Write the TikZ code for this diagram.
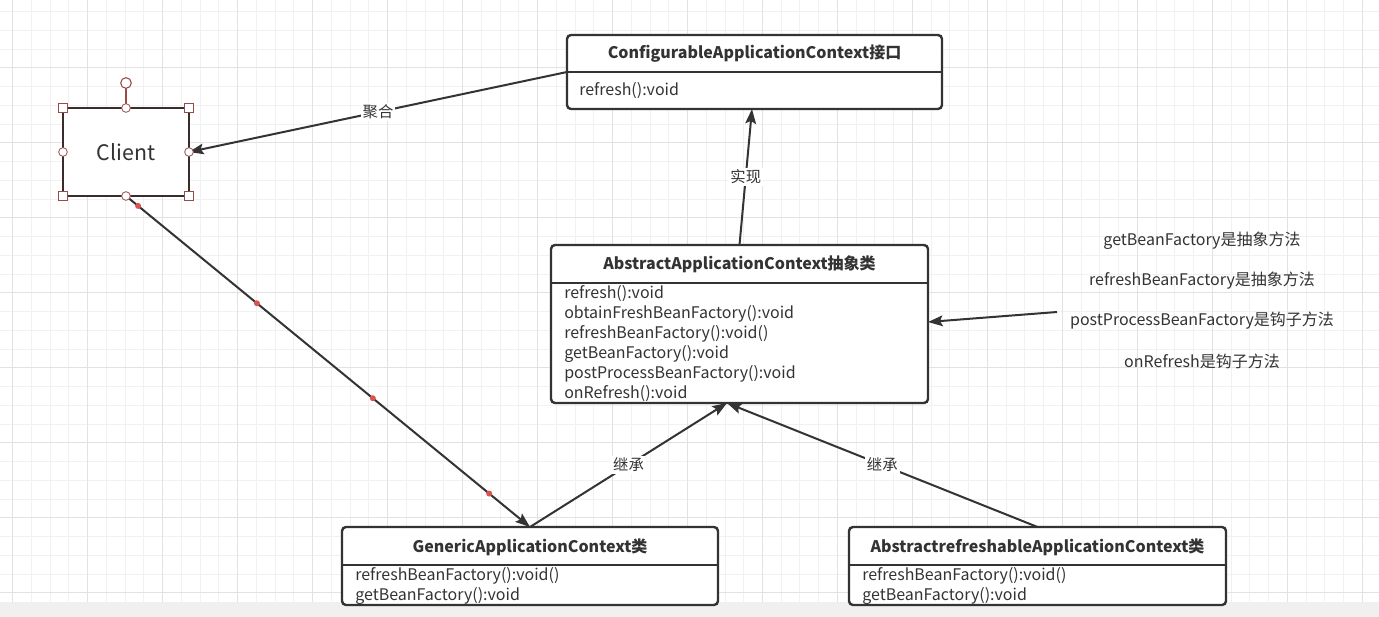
\documentclass[tikz,border=0pt]{standalone}
\usepackage{fontspec}
\setmainfont{Noto Sans CJK SC}
\usetikzlibrary{arrows.meta,calc}
\definecolor{txt}{HTML}{333333}
\definecolor{gminor}{HTML}{F1F1F1}
\definecolor{gmajor}{HTML}{E2E2E2}
\definecolor{band}{HTML}{F0F0F0}
\definecolor{selc}{HTML}{9B4A4A}
\definecolor{cbord}{HTML}{3A2C2C}
\definecolor{dotc}{HTML}{D9534F}
\tikzset{
  umlbox/.style={draw=txt, line width=1.8pt, rounded corners=3pt, fill=white, inner sep=0pt, outer sep=0pt},
  title/.style={font=\fontsize{12}{14}\selectfont\bfseries, text=txt, inner sep=0pt},
  meth/.style={font=\fontsize{12}{14}\selectfont, text=txt, anchor=west, inner sep=0pt, text height=9pt, text depth=1pt},
  note/.style={font=\fontsize{12}{14}\selectfont, text=txt, inner sep=0pt},
  conn/.style={draw=txt, line width=1.5pt, -{Stealth[length=11pt,width=8pt,inset=2pt]}},
  lbl/.style={font=\fontsize{11.5}{13}\selectfont, text=txt, fill=white, inner sep=1.5pt},
  handsq/.style={draw=selc, fill=white, line width=0.6pt, minimum size=6.5pt, inner sep=0pt},
  handci/.style={draw=selc, fill=white, line width=0.6pt, circle, minimum size=6.5pt, inner sep=0pt},
  rdot/.style={fill=dotc, circle, minimum size=4.5pt, inner sep=0pt, sloped}
}
\begin{document}
\begin{tikzpicture}[x=0.75pt,y=-0.75pt]
\useasboundingbox (0,0) rectangle (1379,617);
\fill[white] (0,0) rectangle (1379,617);
% grid
\foreach \i in {0,...,73} {
  \pgfmathsetmacro\xx{12.7+18.745*\i}
  \draw[gminor, line width=0.75pt] (\xx,0) -- (\xx,617);
}
\foreach \i in {0,...,32} {
  \pgfmathsetmacro\yy{11.7+18.745*\i}
  \draw[gminor, line width=0.75pt] (0,\yy) -- (1379,\yy);
}
\foreach \i in {0,...,18} {
  \pgfmathsetmacro\xx{12.7+74.98*\i}
  \draw[gmajor, line width=0.75pt] (\xx,0) -- (\xx,617);
}
\foreach \i in {0,...,8} {
  \pgfmathsetmacro\yy{-6.98+74.98*\i}
  \draw[gmajor, line width=0.75pt] (0,\yy) -- (1379,\yy);
}
\fill[band] (0,602) rectangle (1379,617);

% Client
\node[draw=cbord, line width=1.5pt, fill=white, minimum width=94.5pt, minimum height=66pt, inner sep=0pt, outer sep=0pt,
      font=\fontsize{16}{19}\selectfont, text=txt] (client) at (126,152) {Client};

% UML boxes
\node[umlbox, minimum width=281.25pt, minimum height=55.5pt] (conf) at (754.5,72) {};
\draw[txt, line width=1.8pt] (567,72) -- (942,72);
\node[title] (conft) at (754.5,54) {ConfigurableApplicationContext接口};
\node[meth] (confm) at (579,90) {refresh():void};

\node[umlbox, minimum width=282.75pt, minimum height=118.5pt] (abs) at (739.5,324) {};
\draw[txt, line width=1.8pt] (551,283) -- (928,283);
\node[title] (abst) at (739.5,264) {AbstractApplicationContext抽象类};
\node[meth] (absm1) at (564,293) {refresh():void};
\node[meth] (absm2) at (564,313) {obtainFreshBeanFactory():void};
\node[meth] (absm3) at (564,333) {refreshBeanFactory():void()};
\node[meth] (absm4) at (564,353) {getBeanFactory():void};
\node[meth] (absm5) at (564,373) {postProcessBeanFactory():void};
\node[meth] (absm6) at (564,393) {onRefresh():void};

\node[umlbox, minimum width=282pt, minimum height=58.5pt] (gen) at (530,566) {};
\draw[txt, line width=1.8pt] (342,565) -- (718,565);
\node[title] (gent) at (530,547) {GenericApplicationContext类};
\node[meth] (genm1) at (355,575) {refreshBeanFactory():void()};
\node[meth] (genm2) at (355,595) {getBeanFactory():void};

\node[umlbox, minimum width=282.75pt, minimum height=58.5pt] (ref) at (1037.5,566) {};
\draw[txt, line width=1.8pt] (849,565) -- (1226,565);
\node[title] (reft) at (1037.5,547) {AbstractrefreshableApplicationContext类};
\node[meth] (refm1) at (862,575) {refreshBeanFactory():void()};
\node[meth] (refm2) at (862,595) {getBeanFactory():void};

% notes
\node[note] (n1) at (1202,241) {getBeanFactory是抽象方法};
\node[note] (n2) at (1202,281) {refreshBeanFactory是抽象方法};
\node[note] (n3) at (1202,321) {postProcessBeanFactory是钩子方法};
\node[note] (n4) at (1202,361) {onRefresh是钩子方法};
\coordinate (notesrc) at (1057,312);

% connectors
\coordinate (absin) at (727,403);
\coordinate (confin) at (752,109);
\draw[conn] (conf.west) -- (client.east) node[lbl, pos=0.5] {聚合};
\draw[conn] (abs.north) -- (confin) node[lbl, pos=0.5] {实现};
\draw[conn] (gen.north) -- (absin) node[lbl, pos=0.5] {继承};
\draw[conn] (ref.north) -- (absin) node[lbl, pos=0.5] {继承};
\draw[conn] (notesrc) -- ($(abs.east)+(0,-2)$);
\draw[conn] (client.south) -- (gen.north)
  node[rdot, pos=0.03] {} node[rdot, pos=0.324] {} node[rdot, pos=0.611] {} node[rdot, pos=0.899] {};

% selection handles
\draw[selc, line width=0.8pt] (126,88) -- (client.north);
\node[draw=selc, fill=white, line width=0.8pt, circle, minimum size=8pt, inner sep=0pt] (rot) at (126,83) {};
\node[handsq] (h1) at (client.north west) {};
\node[handsq] (h2) at (client.north east) {};
\node[handsq] (h3) at (client.south west) {};
\node[handsq] (h4) at (client.south east) {};
\node[handci] (h5) at (client.north) {};
\node[handci] (h6) at (client.south) {};
\node[handci] (h7) at (client.west) {};
\node[handci] (h8) at (client.east) {};
\end{tikzpicture}
\end{document}
